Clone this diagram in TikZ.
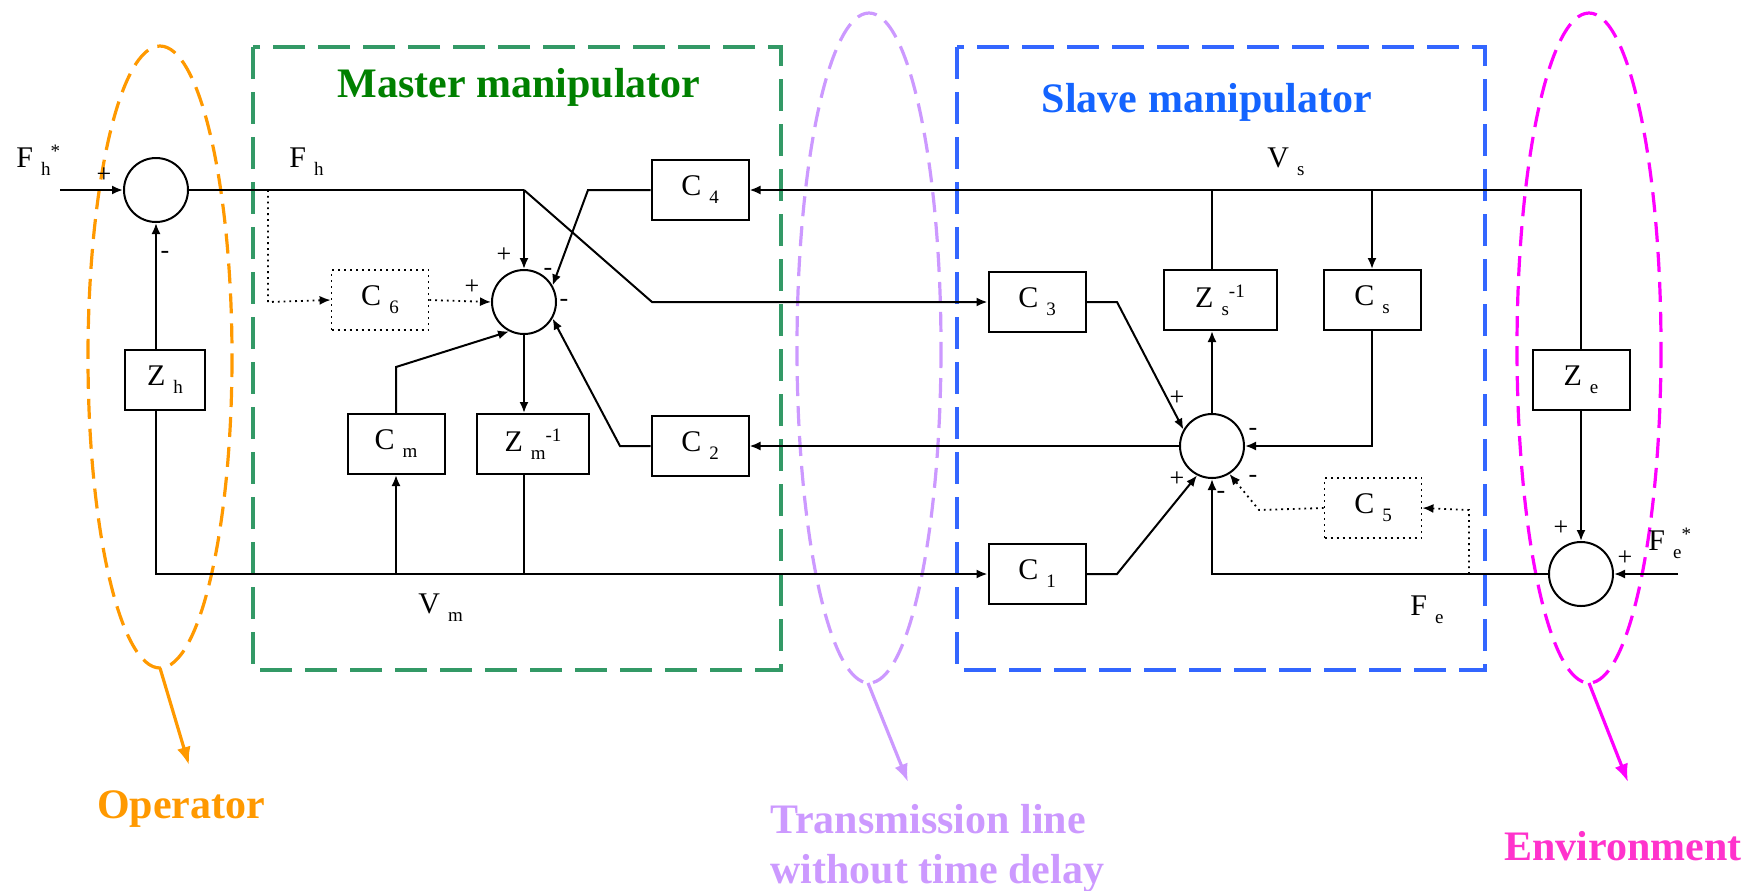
\documentclass[tikz,border=0pt]{standalone}
\usepackage{fontspec}
\setmainfont{Liberation Serif}
\usetikzlibrary{arrows.meta,shapes.geometric}
\newcommand{\lo}[1]{\hspace{4pt}\raisebox{-4pt}{\fontsize{9.5}{10}\selectfont #1}}
\newcommand{\hi}[1]{\raisebox{5pt}{\fontsize{9.5}{10}\selectfont #1}}
\definecolor{opOrange}{RGB}{255,153,0}
\definecolor{mgreen}{RGB}{51,153,102}
\definecolor{mtext}{RGB}{0,128,0}
\definecolor{sblue}{RGB}{51,102,255}
\definecolor{stext}{RGB}{20,100,255}
\definecolor{tpurple}{RGB}{204,153,255}
\definecolor{emag}{RGB}{255,0,255}
\definecolor{etext}{RGB}{255,51,204}
\begin{document}
\begin{tikzpicture}[x=0.5pt,y=-0.5pt,
  blk/.style={draw,line width=1pt,minimum height=30pt,minimum width=48.5pt,inner sep=0pt,font=\fontsize{15}{16}\selectfont},
  dblk/.style={blk,dotted,line width=0.9pt},
  sumc/.style={draw,circle,line width=1pt,minimum size=32pt,inner sep=0pt},
  wire/.style={line width=1pt},
  arr/.style={wire,-{Latex[length=5.5pt,width=4.5pt]}},
  dwire/.style={line width=0.9pt,dotted},
  darr/.style={dwire,-{Latex[length=5.5pt,width=4.5pt]}},
  sgn/.style={font=\fontsize{13}{13}\selectfont,inner sep=0pt},
  lbl/.style={anchor=base west,inner sep=0pt,font=\fontsize{15}{16}\selectfont},
  title/.style={font=\fontsize{21}{22}\selectfont\bfseries,inner sep=0pt},
  grp/.style={line width=1.7pt,dash pattern=on 16pt off 6.5pt},
  zone/.style={line width=1.6pt,dash pattern=on 10pt off 5pt},
  ptr/.style={line width=1.6pt,-{Latex[length=9pt,width=7pt]}}
]
\useasboundingbox (0,0) rectangle (1751,890);

% ---------- groups ----------
\draw[zone,opOrange] (160,357) ellipse [x radius=72,y radius=311];
\draw[zone,tpurple] (869,348) ellipse [x radius=72,y radius=335];
\draw[zone,emag] (1589,348) ellipse [x radius=72,y radius=335];
\draw[grp,mgreen] (253,47) rectangle (781,670);
\draw[grp,sblue] (957,47) rectangle (1485,670);

\node[title,text=mtext,anchor=base] (mt) at (519,97) {Master manipulator};
\node[title,text=stext,anchor=base] (st) at (1207,112) {Slave manipulator};

\coordinate (opA) at (160,668);
\coordinate (opB) at (189,765);
\coordinate (trA) at (868,683);
\coordinate (trB) at (908,782);
\coordinate (enA) at (1589,683);
\coordinate (enB) at (1628,782);
\draw[ptr,opOrange] (opA) -- (opB);
\draw[ptr,tpurple] (trA) -- (trB);
\draw[ptr,emag] (enA) -- (enB);
\node[title,text=opOrange,anchor=base] (op) at (181,818) {Operator};
\node[title,text=tpurple,anchor=base west] (tr1) at (770,833) {Transmission line};
\node[title,text=tpurple,anchor=base west] (tr2) at (770,883) {without time delay};
\node[title,text=etext,anchor=base] (en) at (1623,860) {Environment};

% ---------- blocks ----------
\node[sumc] (s1) at (156,190) {};
\node[sumc] (s2) at (524,302) {};
\node[sumc] (s3) at (1212,446) {};
\node[sumc] (s4) at (1581,574) {};

\node[blk,minimum width=40pt] (Zh) at (165,380) {Z\lo{h}};
\node[dblk] (C6) at (380,300) {C\lo{6}};
\node[blk] (Cm) at (396,444) {C\lo{m}};
\node[blk,minimum width=56pt] (Zm) at (533,444) {Z\lo{m}\hi{-1}};
\node[blk] (C4) at (700,190) {C\lo{4}};
\node[blk] (C2) at (700,446) {C\lo{2}};
\node[blk] (C3) at (1037,302) {C\lo{3}};
\node[blk] (C1) at (1037,574) {C\lo{1}};
\node[blk,minimum width=56.5pt] (Zs) at (1220,300) {Z\lo{s}\hi{-1}};
\node[blk] (Cs) at (1372,300) {C\lo{s}};
\node[dblk] (C5) at (1373,508) {C\lo{5}};
\node[blk] (Ze) at (1581,380) {Z\lo{e}};

% ---------- signal labels ----------
\node[lbl] (lFhs) at (16,167) {F\lo{h}\hi{*}};
\node[lbl] (lFh) at (289,167) {F\lo{h}};
\node[lbl] (lVm) at (418,613) {V\lo{m}};
\node[lbl] (lVs) at (1267,167) {V\lo{s}};
\node[lbl] (lFe) at (1410,615) {F\lo{e}};
\node[lbl] (lFes) at (1648,550) {F\lo{e}\hi{*}};

% ---------- wires ----------
\coordinate (in1) at (60,190);
\coordinate (j1) at (524,190);
\coordinate (k1) at (652,302);
\coordinate (k4) at (588,190);
\coordinate (k2) at (620,446);
\coordinate (km) at (396,367);
\coordinate (jd) at (268,190);
\coordinate (jd2) at (268,302);
\coordinate (vmL) at (156,574);
\coordinate (vmC) at (396,574);
\coordinate (vmZ) at (524,574);
\coordinate (vsR) at (1581,190);
\coordinate (vsZ) at (1212,190);
\coordinate (vsC) at (1372,190);
\coordinate (kc3) at (1117,302);
\coordinate (kc1) at (1117,574);
\coordinate (feJ) at (1212,574);
\coordinate (feD) at (1469,574);
\coordinate (feD2) at (1469,510);
\coordinate (k5) at (1259,510);
\coordinate (in4) at (1678,574);

\draw[arr] (in1) -- (s1.west);
\draw[wire] (s1.east) -- (j1);
\draw[arr] (j1) -- (s2.north);
\draw[arr] (j1) -- (k1) -- (C3.west);
\draw[arr] (C4.west) -- (k4) -- (s2.30);
\draw[arr] (C2.west) -- (k2) -- (s2.-30);
\draw[arr] (Cm.north) -- (km) -- (s2.-117);
\draw[darr] (jd) -- (jd2) -- (C6.west);
\draw[darr] (C6.east) -- (s2.west);
\draw[arr] (s2.south) -- (s2.south |- Zm.north);
\draw[wire] (s2 |- Zm.south) -- (vmZ);
\draw[arr] (s1 |- Zh.north) -- (s1.south);
\draw[arr] (s1 |- Zh.south) -- (vmL) -- (C1.west);
\draw[arr] (vmC) -- (Cm.south);

\draw[arr] (Ze.north) -- (vsR) -- (C4.east);
\draw[wire] (vsZ) -- (vsZ |- Zs.north);
\draw[arr] (s3.north) -- (s3.north |- Zs.south);
\draw[arr] (vsC) -- (Cs.north);
\draw[arr] (Cs.south) -- (Cs.south |- s3.east) -- (s3.east);
\draw[arr] (s3.west) -- (s3.west -| C2.east);
\draw[arr] (C3.east) -- (kc3) -- (s3.150);
\draw[arr] (C1.east) -- (kc1) -- (s3.-117);
\draw[arr] (s4.west) -- (feJ) -- (s3.south);
\draw[darr] (feD) -- (feD2) -- (C5.east);
\draw[darr] (C5.west) -- (k5) -- (s3.-58);
\draw[arr] (Ze.south) -- (s4.north);
\draw[arr] (in4) -- (s4.east);

% ---------- signs ----------
\node[sgn] (p1) at (104,175) {+};
\node[sgn] (m1) at (165,255) {-};
\node[sgn] (p2a) at (504,255) {+};
\node[sgn] (p2b) at (472,287) {+};
\node[sgn] (m2a) at (548,272) {-};
\node[sgn] (m2b) at (564,303) {-};
\node[sgn] (p3a) at (1177,398) {+};
\node[sgn] (m3a) at (1253,432) {-};
\node[sgn] (p3b) at (1177,479) {+};
\node[sgn] (m3b) at (1253,479) {-};
\node[sgn] (m3c) at (1221,495) {-};
\node[sgn] (p4a) at (1561,528) {+};
\node[sgn] (p4b) at (1625,558) {+};
\end{tikzpicture}
\end{document}
